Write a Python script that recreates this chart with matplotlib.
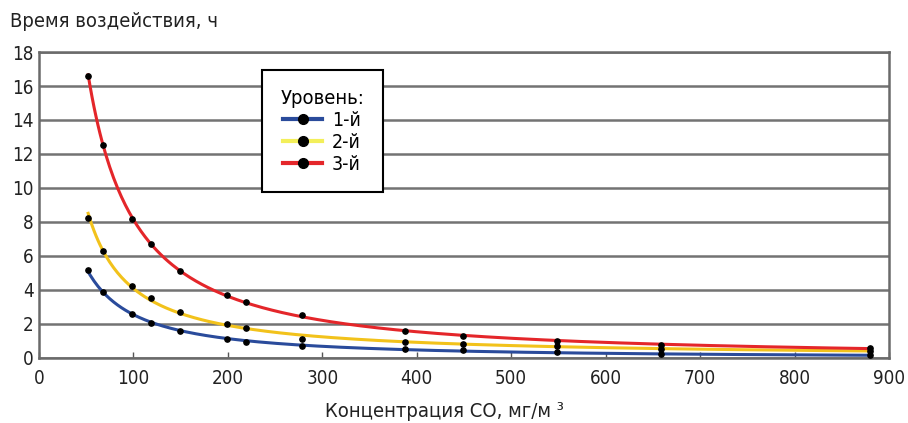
import numpy as np
import matplotlib
matplotlib.use("Agg")
import matplotlib.pyplot as plt

# Data
conc = [52, 68, 98, 119, 149, 199, 219, 278, 388, 449, 549, 659, 880]
level1 = [5.2, 3.9, 2.6, 2.05, 1.6, 1.12, 0.92, 0.7, 0.51, 0.47, 0.33, 0.22, 0.14]
level2 = [8.25, 6.3, 4.25, 3.5, 2.7, 2.0, 1.75, 1.1, 0.96, 0.82, 0.72, 0.53, 0.4]
level3 = [16.6, 12.5, 8.2, 6.7, 5.1, 3.7, 3.3, 2.5, 1.6, 1.3, 1.0, 0.75, 0.58]
series_names = ["1-й", "2-й", "3-й"]
series_colors = ["#2a4b9b", "#f2c21b", "#e4262a"]
legend_colors = ["#2a4b9b", "#f3ef5a", "#e4262a"]
xticks = [0, 100, 200, 300, 400, 500, 600, 700, 800, 900]
yticks = [0, 2, 4, 6, 8, 10, 12, 14, 16, 18]

plt.rcParams['font.family'] = ['DejaVu Sans']
plt.rcParams['font.stretch'] = 'condensed'

fig = plt.figure(figsize=(9.08, 4.23), dpi=100)
ax = fig.add_axes([0.043, 0.154, 0.936, 0.723])

x = np.array(conc, dtype=float)
xs = np.linspace(x.min(), x.max(), 400)
for ys, col, lcol, name in zip([level1, level2, level3], series_colors, legend_colors, series_names):
    y = np.array(ys, dtype=float)
    c = np.polyfit(np.log(x), np.log(y), 2)
    ax.plot(xs, np.exp(np.polyval(c, np.log(xs))), color=col, lw=2.2, zorder=3)
    ax.plot(x, y, 'o', color='black', ms=3.8, zorder=4)
    ax.plot([], [], color=lcol, lw=3, marker='o', mfc='black', mec='black', ms=7, label=name)

ax.set_xlim(0, 900)
ax.set_ylim(0, 18)
ax.set_xticks(xticks)
ax.set_yticks(yticks)
ax.tick_params(axis='x', direction='in', length=4, width=1, color='#555555', labelsize=13.5, pad=8, labelcolor='#222222')
ax.tick_params(axis='y', length=0, labelsize=13.5, pad=4, labelcolor='#222222')
ax.yaxis.grid(True, color='#737373', lw=1.8)
ax.set_axisbelow(True)
for s in ax.spines.values():
    s.set_color('#6a6a6a')
    s.set_linewidth(1.8)

fig.text(0.011, 0.948, "Время воздействия, ч", fontsize=14.5, ha='left', va='center', color='#222222')
fig.text(0.49, 0.028, "Концентрация CO, мг/м ³", fontsize=14.5, ha='center', va='center', color='#222222')

leg = ax.legend(title="Уровень:", loc='upper left', bbox_to_anchor=(0.262, 0.94), borderaxespad=0,
                fontsize=14, title_fontsize=14.5, frameon=True, fancybox=False,
                handlelength=2.0, handletextpad=0.5, borderpad=0.95, labelspacing=0.15)
leg.get_frame().set_edgecolor('black')
leg.get_frame().set_linewidth(1.5)
leg.get_frame().set_alpha(1)

fig.savefig("out.png", dpi=100)
